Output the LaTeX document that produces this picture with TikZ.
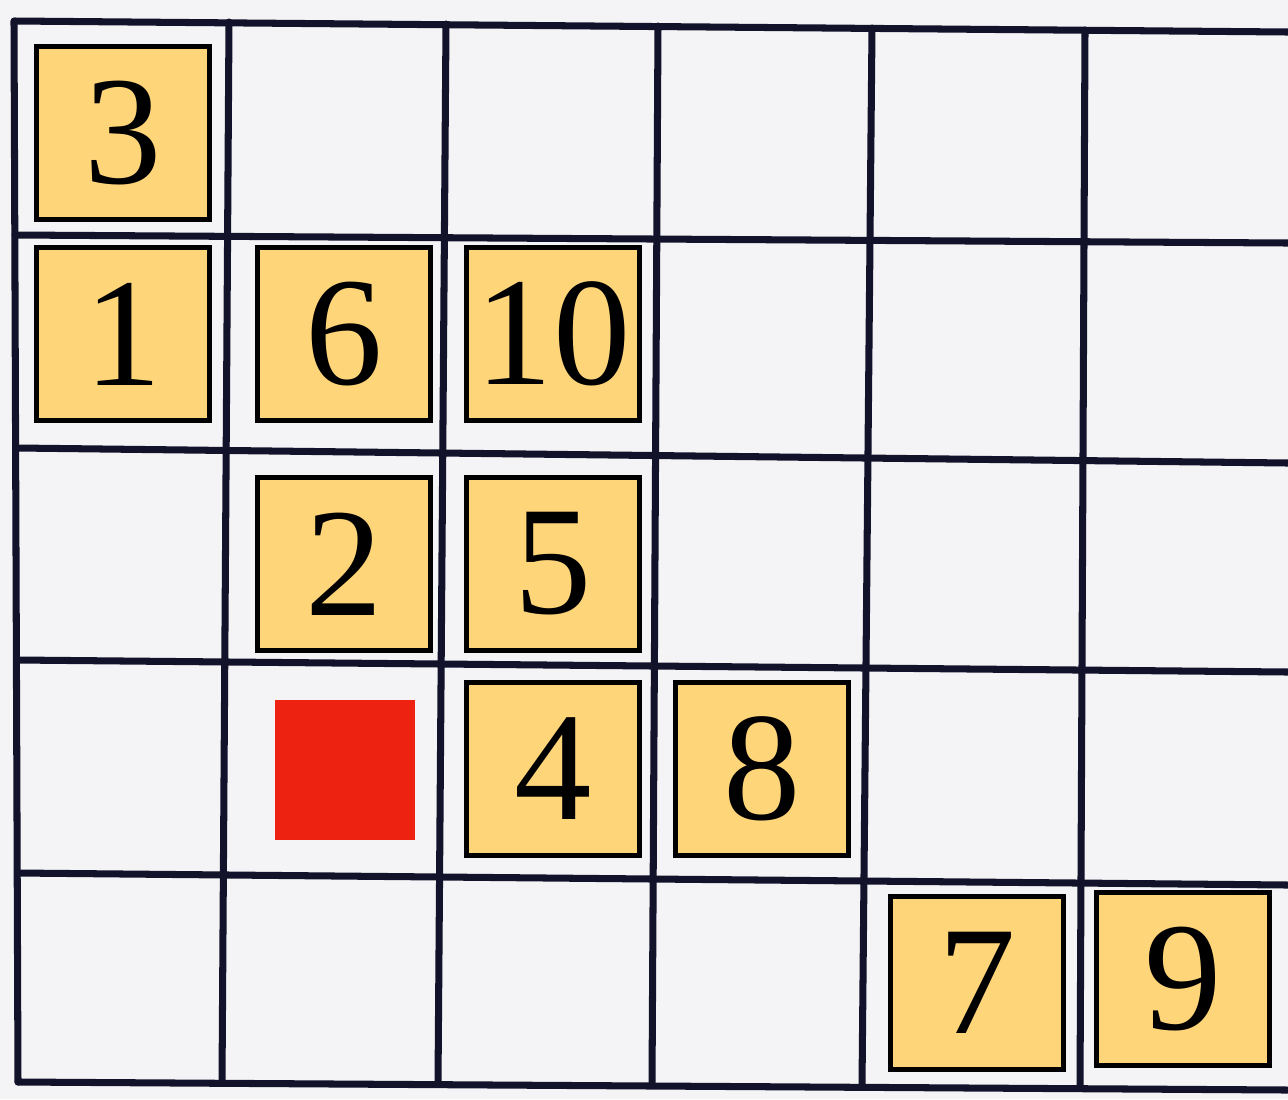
\documentclass[tikz,border=0pt]{standalone}
\usepackage{fontspec}
\setmainfont{Liberation Serif}
\usepackage{xcolor}
\usetikzlibrary{positioning}

\definecolor{paper}{HTML}{F4F4F6}
\definecolor{ink}{HTML}{12122A}
\definecolor{tilefill}{HTML}{FFD57A}
\definecolor{marker}{HTML}{EE2211}

\tikzset{
  gridline/.style={ink,line width=2pt,line cap=round},
  tile/.style={draw=black,line width=1.4pt,fill=tilefill,minimum size=1.73cm,
    inner sep=0pt,font=\fontsize{44}{44}\selectfont},
  goal/.style={fill=marker,minimum size=1.40cm,inner sep=0pt}
}

\begin{document}
\begin{tikzpicture}[x=0.01cm,y=-0.01cm]
\fill[paper] (0,0) rectangle (1288,1099);
\useasboundingbox (0,0) rectangle (1288,1099);
% hand-drawn grid, 6 x 5 cells
\draw[gridline] (15,21) -- (1288,32);
\draw[gridline] (15,235) -- (1288,243);
\draw[gridline] (18,448) -- (1288,463);
\draw[gridline] (18,660) -- (1288,672);
\draw[gridline] (18,873) -- (1288,885);
\draw[gridline] (18,1082) -- (1288,1090);
\draw[gridline] (14,21) -- (18,1082);
\draw[gridline] (229,22) -- (222,1083);
\draw[gridline] (446,24) -- (438,1084);
\draw[gridline] (658,26) -- (652,1085);
\draw[gridline] (872,28) -- (862,1086);
\draw[gridline] (1085,30) -- (1080,1088);
% numbered tiles
\node[tile] (t3) at (123,133) {3};
\node[tile] (t1) at (123,334) {1};
\node[tile] (t6) at (344,334) {6};
\node[tile] (t10) at (553,334) {10};
\node[tile] (t2) at (344,564) {2};
\node[tile] (t5) at (553,564) {5};
\node[tile] (t4) at (553,769) {4};
\node[tile] (t8) at (762,769) {8};
\node[tile] (t7) at (977,983) {7};
\node[tile] (t9) at (1183,979) {9};
% red marker
\node[goal] (mark) at (345,770) {};
\end{tikzpicture}
\end{document}
